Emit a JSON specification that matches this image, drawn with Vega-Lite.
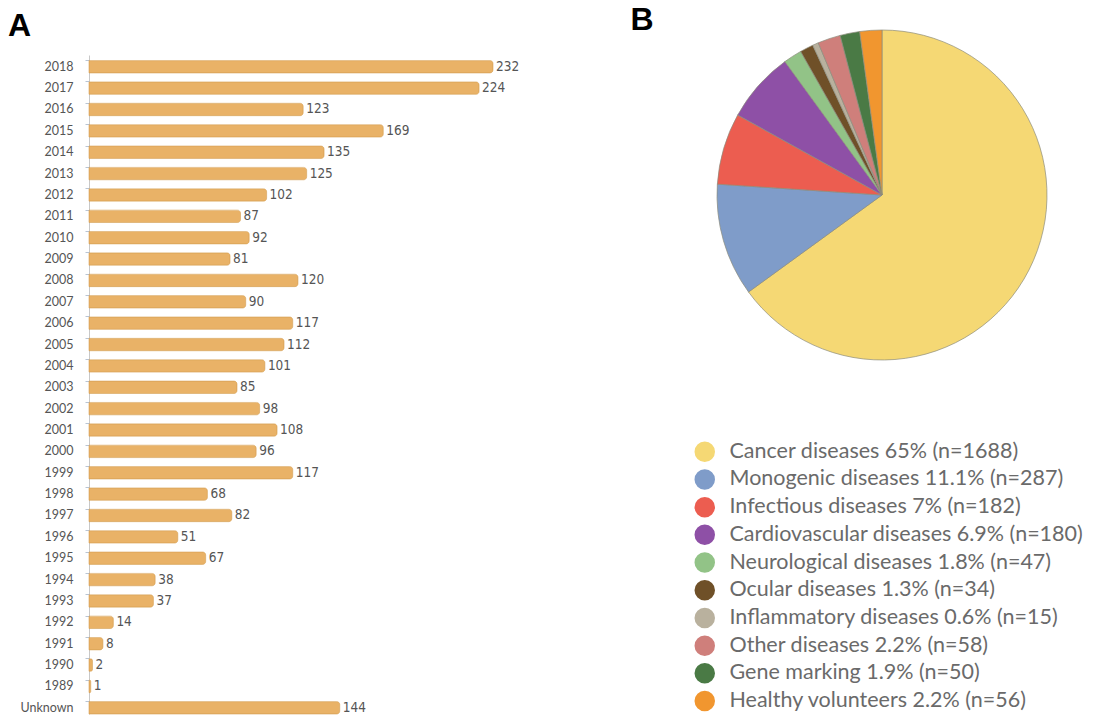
{
  "$schema": "https://vega.github.io/schema/vega-lite/v6.json",
  "padding": {"left": 7, "top": 3, "right": 0, "bottom": 0},
  "background": "white",
  "config": {"view": {"stroke": null}, "font": "Lato"},
  "spacing": 110,
  "hconcat": [
    {
      "title": {"text": "A", "anchor": "start", "frame": "bounds", "fontSize": 32, "font": "Liberation Sans", "fontWeight": "bold", "color": "black", "offset": 12, "dx": -12},
      "width": 404,
      "height": 659,
      "data": {"values": [
        {"year": "2018", "count": 232},
        {"year": "2017", "count": 224},
        {"year": "2016", "count": 123},
        {"year": "2015", "count": 169},
        {"year": "2014", "count": 135},
        {"year": "2013", "count": 125},
        {"year": "2012", "count": 102},
        {"year": "2011", "count": 87},
        {"year": "2010", "count": 92},
        {"year": "2009", "count": 81},
        {"year": "2008", "count": 120},
        {"year": "2007", "count": 90},
        {"year": "2006", "count": 117},
        {"year": "2005", "count": 112},
        {"year": "2004", "count": 101},
        {"year": "2003", "count": 85},
        {"year": "2002", "count": 98},
        {"year": "2001", "count": 108},
        {"year": "2000", "count": 96},
        {"year": "1999", "count": 117},
        {"year": "1998", "count": 68},
        {"year": "1997", "count": 82},
        {"year": "1996", "count": 51},
        {"year": "1995", "count": 67},
        {"year": "1994", "count": 38},
        {"year": "1993", "count": 37},
        {"year": "1992", "count": 14},
        {"year": "1991", "count": 8},
        {"year": "1990", "count": 2},
        {"year": "1989", "count": 1},
        {"year": "Unknown", "count": 144}
      ]},
      "encoding": {
        "y": {
          "field": "year", "type": "nominal", "sort": null,
          "scale": {"paddingInner": 0.42, "paddingOuter": 0.13, "align": 1},
          "axis": {"title": null, "labelFont": "Lato", "labelFontSize": 12.5, "labelColor": "#555", "labelPadding": 12, "domainColor": "#c8c8c8", "tickColor": "#b8c4d4", "tickSize": 4, "bandPosition": 0}
        },
        "x": {"field": "count", "type": "quantitative", "scale": {"domain": [0, 232], "nice": false}, "axis": null}
      },
      "layer": [
        {"mark": {"type": "bar", "color": "#E9B267", "cornerRadiusEnd": 3, "stroke": "#d8a258", "strokeWidth": 0.6}},
        {"mark": {"type": "text", "align": "left", "baseline": "middle", "dx": 3, "font": "Liberation Sans Narrow, DejaVu Sans Condensed", "fontSize": 13.5, "color": "#555"},
         "encoding": {"text": {"field": "count", "type": "quantitative"}}}
      ]
    },
    {
      "title": {"text": "B", "anchor": "start", "frame": "bounds", "fontSize": 32, "font": "Liberation Sans", "fontWeight": "bold", "color": "black", "offset": -8, "dx": -85},
      "width": 330,
      "height": 280,
      "data": {"values": [
        {"idx": 1, "label": "Cancer diseases 65% (n=1688)", "n": 1688},
        {"idx": 2, "label": "Monogenic diseases 11.1% (n=287)", "n": 287},
        {"idx": 3, "label": "Infectious diseases  7% (n=182)", "n": 182},
        {"idx": 4, "label": "Cardiovascular diseases 6.9% (n=180)", "n": 180},
        {"idx": 5, "label": "Neurological diseases 1.8% (n=47)", "n": 47},
        {"idx": 6, "label": "Ocular diseases 1.3% (n=34)", "n": 34},
        {"idx": 7, "label": "Inflammatory diseases 0.6% (n=15)", "n": 15},
        {"idx": 8, "label": "Other diseases 2.2% (n=58)", "n": 58},
        {"idx": 9, "label": "Gene marking 1.9% (n=50)", "n": 50},
        {"idx": 10, "label": "Healthy volunteers 2.2% (n=56)", "n": 56}
      ]},
      "mark": {"type": "arc", "outerRadius": 165, "stroke": "#8c8c7c", "strokeWidth": 0.7},
      "encoding": {
        "theta": {"field": "n", "type": "quantitative", "stack": true},
        "order": {"field": "idx", "type": "quantitative"},
        "color": {
          "field": "label", "type": "nominal",
          "scale": {
            "domain": ["Cancer diseases 65% (n=1688)", "Monogenic diseases 11.1% (n=287)", "Infectious diseases  7% (n=182)", "Cardiovascular diseases 6.9% (n=180)", "Neurological diseases 1.8% (n=47)", "Ocular diseases 1.3% (n=34)", "Inflammatory diseases 0.6% (n=15)", "Other diseases 2.2% (n=58)", "Gene marking 1.9% (n=50)", "Healthy volunteers 2.2% (n=56)"],
            "range": ["#F5D874", "#7F9CC9", "#EC5D50", "#8E50A6", "#92C387", "#6F5028", "#B9B19E", "#CF7F7B", "#4A7A45", "#F1962F"]
          },
          "legend": {"title": null, "orient": "none", "legendX": 605, "legendY": 386, "symbolType": "circle", "symbolSize": 420, "symbolStrokeWidth": 0, "symbolOpacity": 1, "labelFont": "Lato", "labelFontSize": 21.5, "labelColor": "#6a6a6a", "labelOffset": 14, "rowPadding": 4.7, "labelLimit": 600, "padding": 0}
        }
      }
    }
  ]
}
